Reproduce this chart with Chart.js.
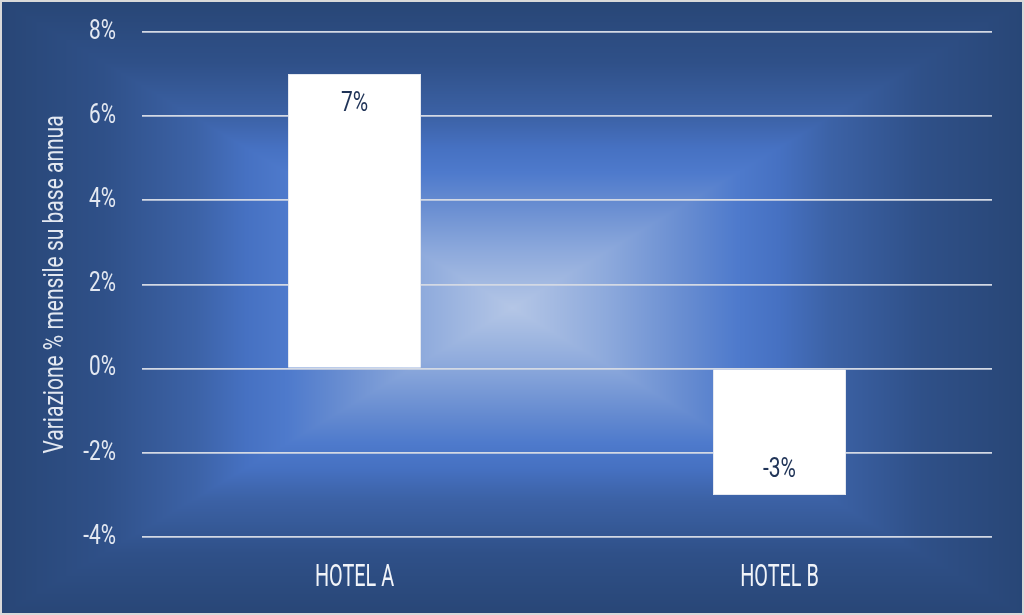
<!DOCTYPE html>
<html>
<head>
<meta charset="utf-8">
<script src="https://cdn.jsdelivr.net/npm/chart.js@4.4.0/dist/chart.umd.min.js"></script>
<style>
  html, body { margin: 0; padding: 0; background: #ffffff; }
  #wrap { width: 1024px; height: 615px; }
</style>
</head>
<body>
<div id="wrap"><canvas id="chart" width="1024" height="615"></canvas></div>
<script>
// data
const hotels = ['HOTEL A', 'HOTEL B'];
const variazione = [7, -3];
const yTicks = [-4, -2, 0, 2, 4, 6, 8];
const yTitle = 'Variazione % mensile su base annua';

const FONT = "Roboto, 'DejaVu Sans', sans-serif";

// office style rectangular gradient behind the chart
const bgStops = [
  [0.00, [180, 198, 230]],
  [0.18, [142, 170, 220]],
  [0.35, [100, 138, 208]],
  [0.44, [ 78, 122, 204]],
  [0.52, [ 70, 113, 194]],
  [0.62, [ 60,  98, 166]],
  [0.80, [ 47,  80, 136]],
  [1.00, [ 40,  70, 118]]
];

function rampColor(t) {
  for (let i = 1; i < bgStops.length; i++) {
    if (t <= bgStops[i][0]) {
      const a = bgStops[i - 1], b = bgStops[i];
      const f = (t - a[0]) / (b[0] - a[0]);
      return a[1].map((c, k) => c + (b[1][k] - c) * f);
    }
  }
  return bgStops[bgStops.length - 1][1];
}

let bgCanvas = null;
function buildBackground(w, h) {
  const off = document.createElement('canvas');
  off.width = w;
  off.height = h;
  const octx = off.getContext('2d');
  const img = octx.createImageData(w, h);
  const cx = w * 0.5, cy = h * 0.5;
  for (let y = 0; y < h; y++) {
    for (let x = 0; x < w; x++) {
      const t = Math.min(1, Math.max(Math.abs(x - cx) / cx, Math.abs(y - cy) / cy));
      const c = rampColor(t);
      const i = (y * w + x) * 4;
      img.data[i] = c[0];
      img.data[i + 1] = c[1];
      img.data[i + 2] = c[2];
      img.data[i + 3] = 255;
    }
  }
  octx.putImageData(img, 0, 0);
  return off;
}

const backgroundPlugin = {
  id: 'backgroundPlugin',
  beforeDraw(chart) {
    const ctx = chart.ctx;
    if (!bgCanvas) bgCanvas = buildBackground(chart.width, chart.height);
    ctx.save();
    ctx.drawImage(bgCanvas, 0, 0, chart.width, chart.height);
    ctx.restore();
  },
  afterDraw(chart) {
    const ctx = chart.ctx;
    ctx.save();
    ctx.strokeStyle = '#d9d9d9';
    ctx.lineWidth = 2;
    ctx.strokeRect(1, 1, chart.width - 2, chart.height - 2);
    ctx.restore();
  }
};

// condensed text: the original uses a narrow font, so squeeze Roboto
function narrowText(ctx, text, x, y, size, squeeze, align, color) {
  ctx.save();
  ctx.font = '400 ' + size + 'px ' + FONT;
  ctx.fillStyle = color;
  ctx.textAlign = align;
  ctx.textBaseline = 'middle';
  ctx.translate(x, y);
  ctx.scale(squeeze, 1);
  ctx.fillText(text, 0, 0);
  ctx.restore();
}

const narrowLabels = {
  id: 'narrowLabels',
  afterDraw(chart) {
    const ctx = chart.ctx;
    const xs = chart.scales.x;
    const ys = chart.scales.y;
    const area = chart.chartArea;

    // y ticks
    yTicks.forEach(v => {
      narrowText(ctx, v + '%', 116, ys.getPixelForValue(v), 27, 0.77, 'right', '#e3e8f1');
    });

    // x category labels
    hotels.forEach((h, i) => {
      narrowText(ctx, h, xs.getPixelForValue(i), 578, 32, 0.62, 'center', '#f1f4f9');
    });

    // axis title
    ctx.save();
    ctx.translate(56, (area.top + area.bottom) / 2);
    ctx.rotate(-Math.PI / 2);
    narrowText(ctx, yTitle, 0, 0, 28, 0.75, 'center', '#e3e8f1');
    ctx.restore();

    // value labels inside the bar ends
    const meta = chart.getDatasetMeta(0);
    meta.data.forEach((bar, i) => {
      const v = variazione[i];
      const y = v >= 0 ? bar.y + 30 : bar.y - 25;
      narrowText(ctx, v + '%', bar.x, y, 28, 0.75, 'center', '#1f3357');
    });
  }
};

new Chart(document.getElementById('chart'), {
  type: 'bar',
  data: {
    labels: hotels,
    datasets: [{
      data: variazione,
      backgroundColor: '#ffffff',
      borderColor: '#e4e8f0',
      borderWidth: 1,
      barPercentage: 0.313,
      categoryPercentage: 1
    }]
  },
  options: {
    responsive: false,
    animation: false,
    layout: { padding: { top: 32, right: 32, bottom: 0, left: 0 } },
    plugins: {
      legend: { display: false },
      tooltip: { enabled: false }
    },
    scales: {
      x: {
        grid: { display: false },
        border: { display: false },
        ticks: { display: false },
        afterFit(scale) { scale.height = 78; }
      },
      y: {
        min: -4,
        max: 8,
        afterBuildTicks(scale) { scale.ticks = yTicks.map(v => ({ value: v })); },
        grid: { color: '#d3d9e4', lineWidth: 1.8, drawTicks: false },
        border: { display: false },
        ticks: { display: false },
        afterFit(scale) { scale.width = 142; }
      }
    }
  },
  plugins: [backgroundPlugin, narrowLabels]
});
</script>
</body>
</html>
